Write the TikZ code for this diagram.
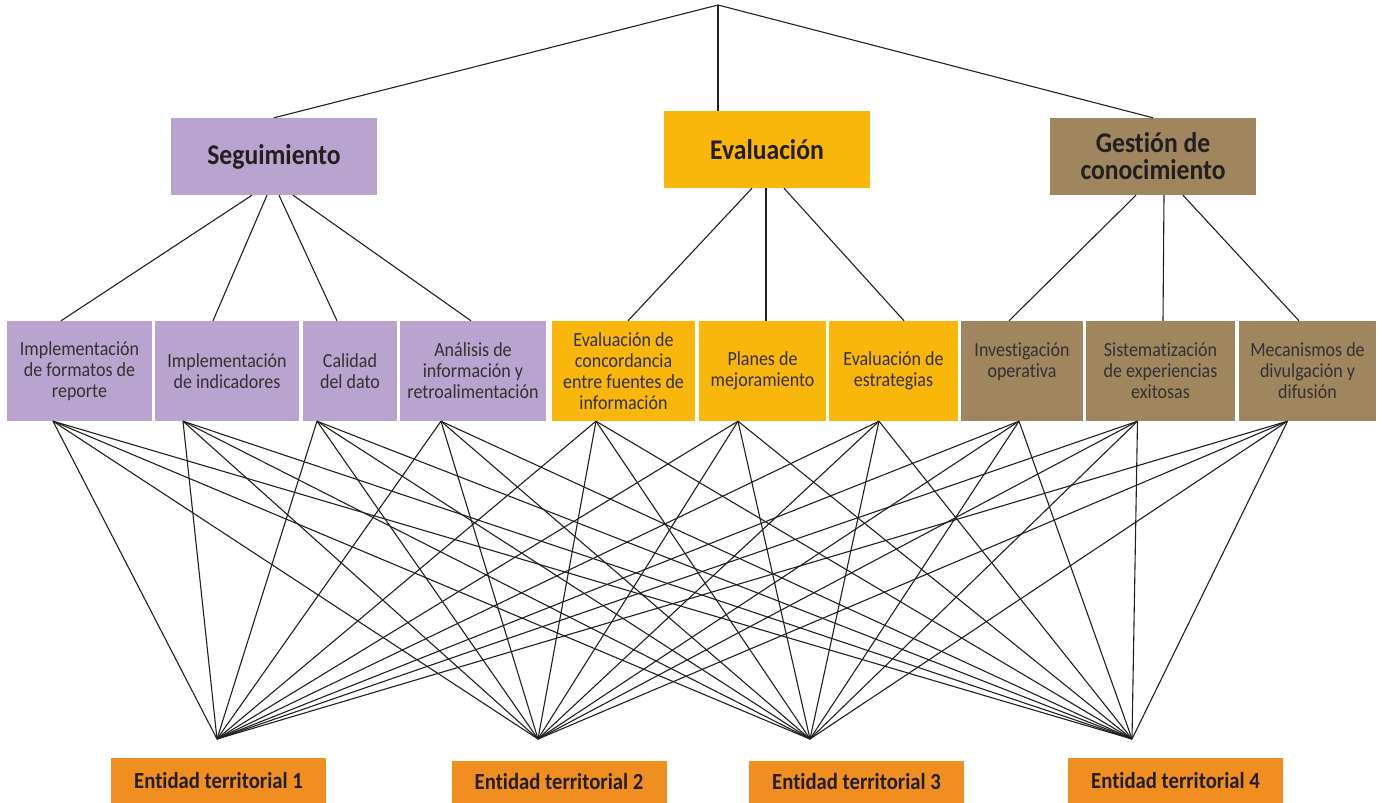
\documentclass[tikz,border=0pt]{standalone}
\usepackage{fontspec}
\setmainfont{Carlito}[FakeStretch=0.9,Ligatures=NoCommon]
\definecolor{segcolor}{HTML}{B9A3CF}
\definecolor{evacolor}{HTML}{F9B70C}
\definecolor{gescolor}{HTML}{A0865E}
\definecolor{entcolor}{HTML}{F18E20}
\definecolor{textdark}{HTML}{231F20}
\definecolor{textgray}{HTML}{333132}

\begin{document}
\begin{tikzpicture}[x=1pt,y=-1pt]
		% Define styles
		\tikzstyle{edge} = [draw,line width=1.1pt,textdark]
		\tikzstyle{head} = [rectangle,inner sep=0pt,minimum width=206pt,minimum height=77pt,align=center,text=textdark,font=\bfseries\fontsize{28.5}{27}\selectfont]
		\tikzstyle{item} = [rectangle,inner sep=0pt,minimum height=100pt,align=center,text=textgray,font=\fontsize{20}{21}\selectfont]
		\tikzstyle{entity} = [rectangle,fill=entcolor,inner sep=0pt,minimum width=215pt,text=textdark,font=\bfseries\fontsize{23}{25}\selectfont]
		
		\useasboundingbox (0,0) rectangle (1382,803);
		
		% Main areas
		\coordinate (top) at (718,5);
		\node[head, fill=segcolor] (seg) at (274,156.5) {Seguimiento};
		\node[head, fill=evacolor] (eva) at (767,149.5) {Evaluación};
		\node[head, fill=gescolor] (ges) at (1153,156.5) {Gestión de\\conocimiento};
		
		\draw[edge] (top) -- (seg.north);
		\draw[edge] (top) -- ([xshift=-49]eva.north);
		\draw[edge] (top) -- (ges.north);
		
		% Components of each area
		\node[item, fill=segcolor, minimum width=145pt] (s1) at (79.5,371) {Implementación\\de formatos de\\reporte};
		\node[item, fill=segcolor, minimum width=144pt] (s2) at (227,371) {Implementación\\de indicadores};
		\node[item, fill=segcolor, minimum width=94pt] (s3) at (350,371) {Calidad\\del dato};
		\node[item, fill=segcolor, minimum width=146pt] (s4) at (473,371) {Análisis de\\información y\\retroalimentación};
		\node[item, fill=evacolor, minimum width=143pt] (v1) at (623.5,371) {Evaluación de\\concordancia\\entre fuentes de\\información};
		\node[item, fill=evacolor, minimum width=127pt] (v2) at (762.5,371) {Planes de\\mejoramiento};
		\node[item, fill=evacolor, minimum width=129pt] (v3) at (893.5,371) {Evaluación de\\estrategias};
		\node[item, fill=gescolor, minimum width=122pt] (g1) at (1022,371) {Investigación\\operativa\\\mbox{}};
		\node[item, fill=gescolor, minimum width=149pt] (g2) at (1160.5,371) {Sistematización\\de experiencias\\exitosas};
		\node[item, fill=gescolor, minimum width=137pt] (g3) at (1307.5,371) {Mecanismos de\\divulgación y\\difusión};
		
		\draw[edge] ([xshift=-22]seg.south) -- ([xshift=-18.5]s1.north);
		\draw[edge] ([xshift=-7]seg.south) -- ([xshift=-14]s2.north);
		\draw[edge] ([xshift=5]seg.south) -- ([xshift=-13]s3.north);
		\draw[edge] ([xshift=19]seg.south) -- ([xshift=-2]s4.north);
		\draw[edge] ([xshift=-15]eva.south) -- ([xshift=4.5]v1.north);
		\draw[edge] ([xshift=-1]eva.south) -- ([xshift=3.5]v2.north);
		\draw[edge] ([xshift=17]eva.south) -- ([xshift=10.5]v3.north);
		\draw[edge] ([xshift=-17]ges.south) -- ([xshift=-13]g1.north);
		\draw[edge] ([xshift=11]ges.south) -- ([xshift=2.5]g2.north);
		\draw[edge] ([xshift=30]ges.south) -- ([xshift=-8.5]g3.north);
		
		% Territorial entities
		\coordinate (t1) at (217,739);
		\coordinate (t2) at (538,739);
		\coordinate (t3) at (810,739);
		\coordinate (t4) at (1132,739);
		\node[entity, minimum height=45pt] (e1) at (218.5,780.5) {Entidad territorial 1};
		\node[entity, minimum height=42pt] (e2) at (559,782) {Entidad territorial 2};
		\node[entity, minimum height=42pt] (e3) at (856.5,782) {Entidad territorial 3};
		\node[entity, minimum height=45pt] (e4) at (1175.5,780.5) {Entidad territorial 4};
		
		% Every component reaches every entity
		\foreach \c/\dx in {s1/-26.5,s2/-44,s3/-33,s4/-32,v1/-27.5,v2/-24.5,v3/-14.5,g1/-3,g2/-23,g3/-20}
			\foreach \t in {t1,t2,t3,t4}
				\draw[edge] ([xshift=\dx]\c.south) -- (\t);
		
	\end{tikzpicture}
\end{document}
